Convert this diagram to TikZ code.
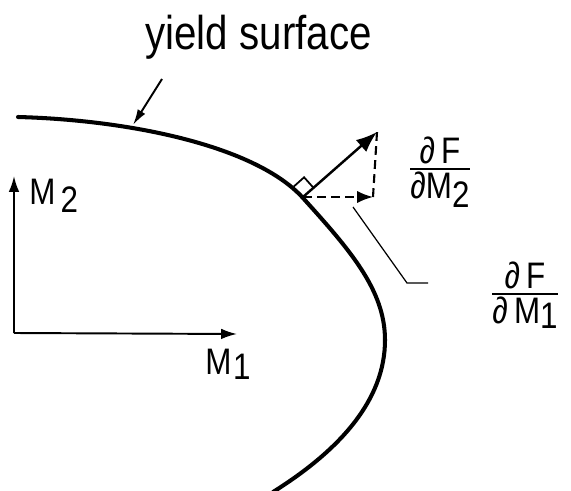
\documentclass[tikz,border=0pt]{standalone}
\usepackage{amsmath}
\usepackage{fontspec}
\setmainfont[FakeStretch=0.85]{Liberation Sans}
\usetikzlibrary{arrows.meta}
\newcommand\pfrac[2]{$\genfrac{}{}{1.1pt}{}{\mbox{#1}}{\mbox{#2}}$}
\begin{document}
\begin{tikzpicture}[x=0.02cm, y=-0.02cm,
    surface/.style={line width=2.3pt, line cap=round},
    axis/.style={line width=1.1pt, -{Latex[length=9pt,width=6pt]}},
    normal/.style={line width=1.4pt, -{Latex[length=12pt,width=9pt]}},
    comp/.style={line width=1.2pt, dash pattern=on 5pt off 3pt},
    pointer/.style={line width=1.1pt, -{Latex[length=9pt,width=5pt]}},
    label/.style={inner sep=0pt, font=\fontsize{21}{25}\selectfont},
    frac/.style={inner sep=0pt, font=\fontsize{21}{25}\selectfont}
]
\useasboundingbox (0,0) rectangle (571,490);

% yield surface
\draw[surface] (18,117) .. controls (130,120) and (256,146) .. (303,198)
    .. controls (350,250) and (385,290) .. (385,340)
    .. controls (385,400) and (340,450) .. (273,492);
\node[label, font=\fontsize{27}{31}\selectfont, anchor=base west] (yield) at (145,50) {yield surface};
\coordinate (ys) at (162,79);
\coordinate (yt) at (133,125);
\draw[pointer] (ys) -- (yt);

% axes
\coordinate (O) at (14,333);
\coordinate (m2end) at (14,176);
\coordinate (m1end) at (237,334);
\draw[axis] (O) -- (m2end);
\draw[axis] (O) -- (m1end);
\node[label, anchor=base west] (m2) at (29,204) {M\kern3pt\raisebox{-5pt}{2}};
\node[label, anchor=base west] (m1) at (205,374) {M\kern1pt\raisebox{-3pt}{1}};

% normal and components
\coordinate (foot) at (303,197);
\coordinate (tip) at (377,132);
\coordinate (corner) at (373,197);
\draw[normal] (foot) -- (tip);
\draw[comp, -{Latex[length=9pt,width=7pt]}] (foot) -- (corner);
\draw[comp] (corner) -- (tip);
\draw[line width=1pt] (foot) ++(10.4,-9.3) -- ++(-9.3,-10.4) -- ++(-10.4,9.3);

% labels of components
\node[frac] (dfm2) at (440,172) {\pfrac{∂\,F}{∂M\raisebox{-5pt}{2}}};
\node[frac] (dfm1) at (525,295) {\pfrac{∂\,F}{∂\,M\raisebox{-3pt}{1}}};
\coordinate (lead1) at (353,207);
\coordinate (lead2) at (407,283);
\coordinate (lead3) at (428,283);
\draw[line width=0.7pt] (lead1) -- (lead2) -- (lead3);
\end{tikzpicture}
\end{document}
